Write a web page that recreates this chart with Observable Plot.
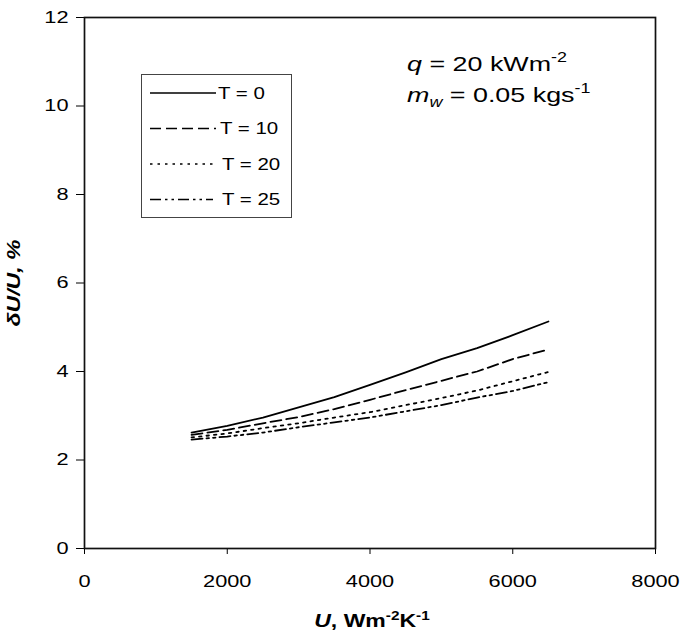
<!DOCTYPE html>
<html>
<head>
<meta charset="utf-8">
<script src="https://cdn.jsdelivr.net/npm/d3@7"></script>
<script src="https://cdn.jsdelivr.net/npm/@observablehq/plot@0.6"></script>
<style>
  html, body { margin: 0; padding: 0; background: #fff; }
  svg { display: block; }
</style>
</head>
<body>
<div id="chart"></div>
<script>
// ---- data ----
const uValues = [1500, 2000, 2500, 3000, 3500, 4000, 4500, 5000, 5500, 6000, 6500];
const seriesNames = ["T = 0", "T = 10", "T = 20", "T = 25"];
const t0  = [2.62, 2.77, 2.96, 3.19, 3.42, 3.70, 3.98, 4.28, 4.53, 4.82, 5.13];
const t10 = [2.57, 2.68, 2.83, 2.97, 3.15, 3.36, 3.58, 3.79, 4.00, 4.28, 4.50];
const t20 = [2.51, 2.60, 2.72, 2.83, 2.96, 3.08, 3.24, 3.40, 3.57, 3.78, 3.99];
const t25 = [2.46, 2.53, 2.62, 2.74, 2.85, 2.96, 3.10, 3.24, 3.41, 3.56, 3.76];
const xTicks = [0, 2000, 4000, 6000, 8000];
const yTicks = [0, 2, 4, 6, 8, 10, 12];

const seriesValues = [t0, t10, t20, t25];
const dashes = [null, "11,5", "2.5,5", "11,4,2.5,4,2.5,4"];
const table = seriesNames.flatMap((name, i) =>
  uValues.map((u, j) => ({series: name, u, v: seriesValues[i][j]})));

const FONT = "'Liberation Sans', Arial, Helvetica, sans-serif";
const STRETCH = 1.28;

const plot = Plot.plot({
  width: 681,
  height: 637,
  marginLeft: 84,
  marginRight: 26,
  marginTop: 17,
  marginBottom: 89,
  style: {fontFamily: FONT, fontSize: "17px", background: "#fff", color: "#000"},
  x: {domain: [0, 8000]},
  y: {domain: [0, 12]},
  marks: [
    Plot.axisX({ticks: xTicks, tickSize: 6, tickPadding: 20, label: null,
      tickFormat: d => String(d), fontSize: 17}),
    Plot.axisY({ticks: yTicks, tickSize: 8, tickPadding: 8, label: null,
      tickFormat: d => String(d), fontSize: 17}),
    ...seriesNames.map((name, i) =>
      Plot.line(table.filter(d => d.series === name), {
        x: "u", y: "v", stroke: "#000", strokeWidth: 1.8,
        strokeDasharray: dashes[i] || undefined
      })),
    Plot.frame({stroke: "#111", strokeWidth: 1.7})
  ]
});

document.getElementById("chart").appendChild(plot);
const svg = d3.select(plot);

// ---- axis titles ----
svg.append("text")
  .attr("transform", "translate(20,283) rotate(-90)")
  .attr("text-anchor", "middle")
  .style("font-family", FONT).style("font-size", "18px")
  .style("font-weight", "bold").style("font-style", "italic")
  .text("δU/U, %");

const xt = svg.append("text")
  .attr("transform", "translate(372,627)")
  .attr("text-anchor", "middle")
  .style("font-family", FONT).style("font-size", "18px").style("font-weight", "bold");
xt.append("tspan").style("font-style", "italic").text("U");
xt.append("tspan").text(", Wm");
xt.append("tspan").attr("dy", -7).style("font-size", "12px").text("-2");
xt.append("tspan").attr("dy", 7).text("K");
xt.append("tspan").attr("dy", -7).style("font-size", "12px").text("-1");

// ---- annotation ----
const a1 = svg.append("text")
  .attr("transform", "translate(407,71)")
  .attr("text-anchor", "start")
  .style("font-family", FONT).style("font-size", "21px");
a1.append("tspan").style("font-style", "italic").text("q");
a1.append("tspan").text(" = 20 kWm");
a1.append("tspan").attr("dy", -9).style("font-size", "14px").text("-2");

const a2 = svg.append("text")
  .attr("transform", "translate(407,102)")
  .attr("text-anchor", "start")
  .style("font-family", FONT).style("font-size", "21px");
a2.append("tspan").style("font-style", "italic").text("m");
a2.append("tspan").attr("dy", 5).style("font-size", "14px").style("font-style", "italic").text("w");
a2.append("tspan").attr("dy", -5).text(" = 0.05 kgs");
a2.append("tspan").attr("dy", -9).style("font-size", "14px").text("-1");

// ---- legend ----
const lg = svg.append("g");
lg.append("rect").attr("x", 141.5).attr("y", 74.5).attr("width", 150).attr("height", 143)
  .attr("fill", "#fff").attr("stroke", "#444").attr("stroke-width", 1);
const rowY = [93, 128.5, 164, 199.5];
const lineEnd = [216, 216, 213, 213];
const textX = [218, 220, 222, 222];
seriesNames.forEach((name, i) => {
  lg.append("line").attr("x1", 150).attr("x2", lineEnd[i])
    .attr("y1", rowY[i]).attr("y2", rowY[i])
    .attr("stroke", "#000").attr("stroke-width", 1.4)
    .attr("stroke-dasharray", dashes[i]);
  lg.append("text").attr("transform", `translate(${textX[i]},${rowY[i]})`)
    .attr("text-anchor", "start")
    .attr("dy", "0.36em")
    .style("font-family", FONT).style("font-size", "16px")
    .text(name);
});

// ---- widen glyphs along the text direction, as in the reference ----
svg.selectAll("text").each(function () {
  const x = parseFloat(this.getAttribute("x")) || 0;
  const t = this.getAttribute("transform") || "";
  this.setAttribute("transform", `${t} translate(${x},0) scale(${STRETCH},1) translate(${-x},0)`);
});
</script>
</body>
</html>
